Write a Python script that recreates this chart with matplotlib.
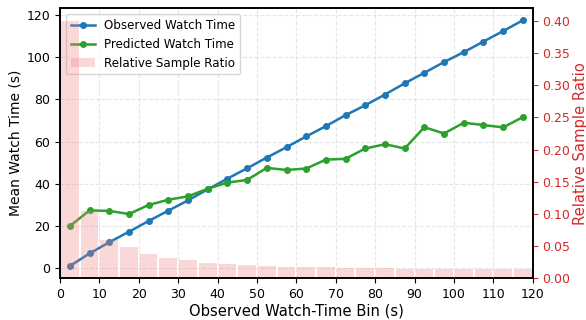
import numpy as np
import matplotlib
matplotlib.use("Agg")
import matplotlib.pyplot as plt

bin_centers = [2.5 + 5 * i for i in range(24)]
observed = [0.95, 6.9, 12.2, 17.2, 22.3, 27.2, 32.1, 37.3, 42.4, 47.3, 52.4, 57.3,
            62.4, 67.3, 72.5, 77.2, 82.3, 87.6, 92.6, 97.7, 102.4, 107.4, 112.4, 117.5]
predicted = [19.9, 27.3, 27.1, 25.6, 29.9, 32.4, 34.0, 37.6, 40.5, 41.8, 47.5, 46.5,
             47.2, 51.4, 51.8, 56.7, 58.7, 56.7, 66.8, 63.8, 68.9, 67.8, 66.7, 71.6]
ratio = [0.40, 0.104, 0.060, 0.048, 0.038, 0.031, 0.029, 0.024, 0.022, 0.021, 0.019, 0.018,
         0.017, 0.017, 0.016, 0.016, 0.016, 0.015, 0.015, 0.015, 0.015, 0.015, 0.015, 0.015]

fig = plt.figure(figsize=(5.86, 3.2), dpi=100)
ax = fig.add_axes([60/586, 1 - 278.3/320, (532.7 - 60)/586, (278.3 - 8)/320])
l1, = ax.plot(bin_centers, observed, '-o', color='#1f77b4', markersize=4, linewidth=1.8,
              label='Observed Watch Time')
l2, = ax.plot(bin_centers, predicted, '-o', color='#2ca02c', markersize=4, linewidth=1.8,
              label='Predicted Watch Time')
ax.set_xlim(0, 120)
ax.set_xticks(range(0, 121, 10))
ax.set_yticks(range(0, 121, 20))
ax.grid(True, linestyle='--', alpha=0.3)
ax.set_xlabel('Observed Watch-Time Bin (s)', fontsize=10.6, labelpad=1.5)
ax.set_ylabel('Mean Watch Time (s)', fontsize=10.0, labelpad=3)
ax.tick_params(labelsize=9)

ax2 = ax.twinx()
b = ax2.bar(bin_centers, ratio, width=4.5, color='lightcoral', alpha=0.3,
            label='Relative Sample Ratio')
ax2.set_ylim(0, max(ratio) * 1.05)
ax2.set_ylabel('Relative Sample Ratio', color='#d62728', fontsize=10.6, labelpad=1.5)
ax2.tick_params(axis='y', colors='#d62728', labelsize=9)
ax2.spines['right'].set_color('black')

for a in (ax, ax2):
    for s in a.spines.values():
        s.set_linewidth(1.2)

ax.legend([l1, l2, b], ['Observed Watch Time', 'Predicted Watch Time', 'Relative Sample Ratio'],
          loc='upper left', fontsize=8.6, framealpha=0.8)

fig.savefig('out.png', dpi=100)
